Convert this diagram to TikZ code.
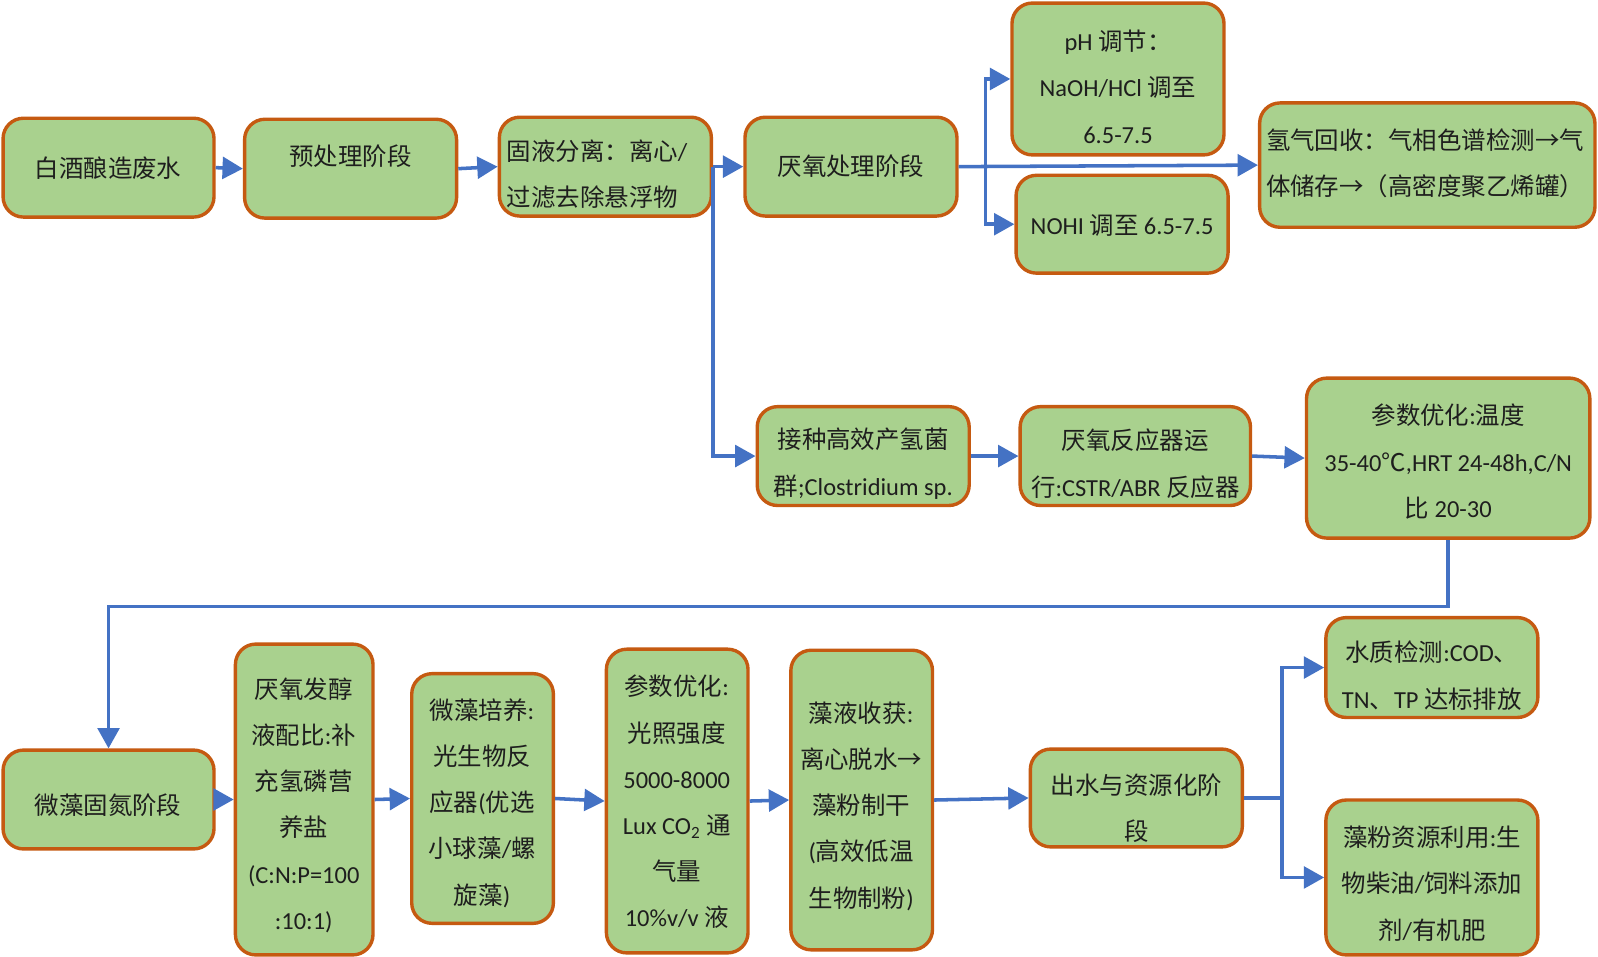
\documentclass[tikz,border=0pt]{standalone}
\usepackage{fontspec}
\setmainfont{Noto Sans CJK SC}
\newfontfamily\en{Carlito}
\usetikzlibrary{arrows.meta,fit}
\definecolor{boxfill}{HTML}{A9D18E}
\definecolor{boxline}{HTML}{C55A11}
\definecolor{arr}{HTML}{4472C4}
\definecolor{ink}{HTML}{1E1E1E}
\begin{document}
\begin{tikzpicture}[x=0.75pt,y=-0.75pt,
  box/.style={draw=boxline, fill=boxfill, line width=2.5pt, rounded corners=15pt, inner sep=0pt},
  txt/.style={font=\fontsize{18pt}{34pt}\selectfont, text=ink, align=center, inner sep=0pt},
  ltxt/.style={txt, align=left, anchor=west},
  conn/.style={draw=arr, line width=2.6pt, -{Triangle[length=15pt,width=16pt]}},
  plain/.style={draw=arr, line width=2.6pt}]
\fill[white] (0,0) rectangle (1568,939);
\useasboundingbox (0,0) rectangle (1568,939);

% row 1
\node[box, fit={(3,116) (210,213)}] (b1) {};
\node[box, fit={(240,117) (448,214)}] (b2) {};
\node[box, fit={(490,115) (698,212)}] (b3) {};
\node[box, fit={(731,115) (939,212)}] (b4) {};
\node[box, fit={(993,3) (1201,152)}] (b5) {};
\node[box, fit={(997,172) (1205,268)}] (b6) {};
\node[box, fit={(1236,101) (1565,223)}] (b7) {};

\node[txt] (t1) at (106,165) {白酒酿造废水};
\node[txt] (t2) at (344,153) {预处理阶段};
\node[ltxt] (t3) at (497,171) {固液分离：离心{\en /}\\过滤去除悬浮物};
\node[txt] (t4) at (835,163) {厌氧处理阶段};
\node[txt] (t5) at (1097,85) {{\en pH} 调节：\\{\en NaOH/HCl} 调至\\{\en 6.5-7.5}};
\node[txt] (t6) at (1101,221) {{\en NOHI} 调至 {\en 6.5-7.5}};
\node[ltxt] (t7) at (1242,160) {氢气回收：气相色谱检测→气\\体储存→（高密度聚乙烯罐）};

% row 2
\node[box, fit={(743,399) (951,496)}] (b8) {};
\node[box, fit={(1001,399) (1227,496)}] (b9) {};
\node[box, fit={(1282,371) (1560,528)}] (b10) {};

\node[txt] (t8) at (847,455) {接种高效产氢菌\\群{\en ;Clostridium sp.}};
\node[txt] (t9) at (1114,455) {厌氧反应器运\\行{\en :CSTR/ABR} 反应器};
\node[txt] (t10) at (1421,453) {参数优化{\en :}温度\\{\en 35-40}℃{\en ,HRT 24-48h,C/N}\\比 {\en 20-30}};

% row 3
\node[box, fit={(3,736) (210,833)}] (b11) {};
\node[box, fit={(231,632) (366,937)}] (b12) {};
\node[box, fit={(404,661) (543,906)}] (b13) {};
\node[box, fit={(595,637) (734,935)}] (b14) {};
\node[box, fit={(776,638) (915,932)}] (b15) {};
\node[box, fit={(1011,735) (1219,831)}] (b16) {};
\node[box, fit={(1301,606) (1509,704)}] (b17) {};
\node[box, fit={(1301,785) (1509,937)}] (b18) {};

\node[txt] (t11) at (106,790) {微藻固氮阶段};
\node[txt] (t12) at (298,790) {厌氧发醇\\液配比{\en :}补\\充氢磷营\\养盐\\{\en (C:N:P=100}\\{\en :10:1)}};
\node[txt] (t13) at (473,788) {微藻培养{\en :}\\光生物反\\应器{\en (}优选\\小球藻{\en /}螺\\旋藻{\en )}};
\node[txt] (t14) at (664,787) {参数优化{\en :}\\光照强度\\{\en 5000-8000}\\{\en Lux CO\textsubscript{2}} 通\\气量\\{\en 10\%v/v} 液};
\node[txt] (t15) at (845,791) {藻液收获{\en :}\\离心脱水→\\藻粉制干\\{\en (}高效低温\\生物制粉{\en )}};
\node[txt] (t16) at (1115,793) {出水与资源化阶\\段};
\node[txt] (t17) at (1405,663) {水质检测{\en :COD}、\\{\en TN}、{\en TP} 达标排放};
\node[txt] (t18) at (1405,867) {藻粉资源利用{\en :}生\\物柴油{\en /}饲料添加\\剂{\en /}有机肥};

% junctions
\coordinate (j1) at (967,163);
\coordinate (j2) at (1421,595);
\coordinate (j3) at (1258,783);

% connectors row 1
\draw[conn] (b1.east) -- (b2.west);
\draw[conn] (b2.east) -- (b3.west);
\draw[conn] (b3.east) -- (b4.west);
\draw[conn] (b4.east) -- (b7.west);
\draw[conn] (j1) |- (b5.west);
\draw[conn] (j1) |- (b6.west);
\draw[conn] (b3.east) |- (b8.west);
% row 2
\draw[conn] (b8.east) -- (b9.west);
\draw[conn] (b9.east) -- (b10.west);
\draw[conn] (b10.south) -- (j2) -| (b11.north);
% row 3
\draw[conn] (b11.east) -- (b12.west);
\draw[conn] (b12.east) -- (b13.west);
\draw[conn] (b13.east) -- (b14.west);
\draw[conn] (b14.east) -- (b15.west);
\draw[conn] (b15.east) -- (b16.west);
\draw[plain] (b16.east) -- (j3);
\draw[conn] (j3) |- (b17.west);
\draw[conn] (j3) |- (b18.west);
\end{tikzpicture}
\end{document}
